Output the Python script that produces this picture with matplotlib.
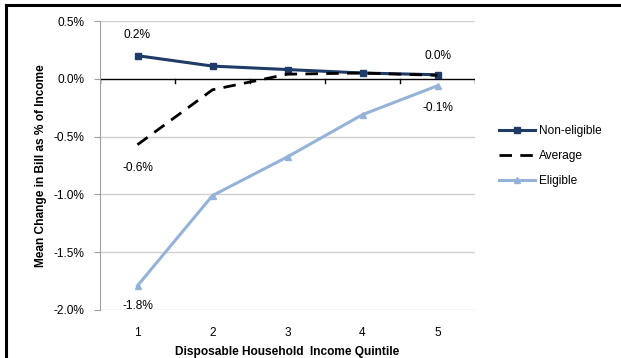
import matplotlib
matplotlib.use('Agg')
import matplotlib.pyplot as plt
from matplotlib.lines import Line2D

plt.rcParams['font.family'] = ['Liberation Sans', 'DejaVu Sans']

QUINTILES = [1, 2, 3, 4, 5]
NON_ELIGIBLE = [0.20, 0.11, 0.08, 0.05, 0.035]
AVERAGE = [-0.57, -0.095, 0.04, 0.05, 0.03]
ELIGIBLE = [-1.79, -1.01, -0.675, -0.31, -0.06]
YTICKS = [0.5, 0.0, -0.5, -1.0, -1.5, -2.0]

NAVY = '#1F3B68'
LIGHT = '#95B3D7'
FS = 8.6


def main():
    fig = plt.figure(figsize=(6.21, 3.58), dpi=100)
    ax = fig.add_axes([100/621, 1-310/358, 375/621, 289/358])

    for y in YTICKS:
        if y != 0.0:
            ax.axhline(y, color='#D0D0D0', lw=1, zorder=0)

    ax.plot(QUINTILES, NON_ELIGIBLE, '-', color=NAVY, lw=2.2, marker='s',
            markersize=5, label='Non-eligible', zorder=4)
    ax.plot(QUINTILES, AVERAGE, '--', color='black', lw=2.0,
            dashes=(4.5, 3), label='Average', zorder=5)
    ax.plot(QUINTILES, ELIGIBLE, '-', color=LIGHT, lw=2.2, marker='^',
            markersize=5, label='Eligible', zorder=3)

    # data labels
    ax.annotate('0.2%', (1, NON_ELIGIBLE[0]), xytext=(0, 13),
                textcoords='offset points', ha='center', fontsize=FS)
    ax.annotate('0.0%', (5, NON_ELIGIBLE[4]), xytext=(0, 11),
                textcoords='offset points', ha='center', fontsize=FS)
    ax.annotate('-0.6%', (1, AVERAGE[0]), xytext=(0, -19),
                textcoords='offset points', ha='center', fontsize=FS)
    ax.annotate('-1.8%', (1, ELIGIBLE[0]), xytext=(0, -17),
                textcoords='offset points', ha='center', fontsize=FS)
    ax.annotate('-0.1%', (5, ELIGIBLE[4]), xytext=(0, -18),
                textcoords='offset points', ha='center', fontsize=FS)

    ax.set_xlim(0.5, 5.5)
    ax.set_ylim(-2.0, 0.5)
    ax.set_yticks(YTICKS)
    ax.set_yticklabels(['%.1f%%' % v for v in YTICKS], fontsize=FS)
    ax.set_xticks(QUINTILES)
    ax.set_xticklabels([str(q) for q in QUINTILES], fontsize=FS)
    ax.tick_params(axis='x', length=0, pad=12)
    ax.tick_params(axis='y', length=4, color='#A0A0A0', pad=7)

    for s in ('top', 'right', 'bottom'):
        ax.spines[s].set_visible(False)
    ax.spines['left'].set_color('#A0A0A0')

    # category axis drawn at zero with boundary ticks
    ax.axhline(0, color='black', lw=1, zorder=2)
    for xb in [0.5, 1.5, 2.5, 3.5, 4.5, 5.5]:
        ax.plot([xb, xb], [0, -0.035], color='black', lw=1, zorder=2)

    ax.set_xlabel('Disposable Household  Income Quintile', fontsize=FS,
                  fontweight='bold', labelpad=5)
    ax.set_ylabel('Mean Change in Bill as % of Income', fontsize=FS,
                  fontweight='bold', labelpad=5)

    handles = [
        Line2D([], [], color=NAVY, lw=2.2, marker='s', markersize=5),
        Line2D([], [], color='black', lw=2.0, ls='--', dashes=(4.5, 3)),
        Line2D([], [], color=LIGHT, lw=2.2, marker='^', markersize=5),
    ]
    fig.legend(handles, ['Non-eligible', 'Average', 'Eligible'],
               loc='center left', bbox_to_anchor=(488/621, 1-156/358),
               frameon=False, fontsize=FS, handlelength=3.0,
               labelspacing=1.1, handletextpad=0.4)

    # outer frame lines (left and top)
    fig.add_artist(Line2D([6/621, 6/621], [0, 1-5/358], color='black',
                          lw=2.2, transform=fig.transFigure))
    fig.add_artist(Line2D([6/621, 1], [1-5/358, 1-5/358], color='black',
                          lw=2.2, transform=fig.transFigure))

    plt.savefig('out.png', dpi=100)
    plt.close('all')


if __name__ == '__main__':
    main()
